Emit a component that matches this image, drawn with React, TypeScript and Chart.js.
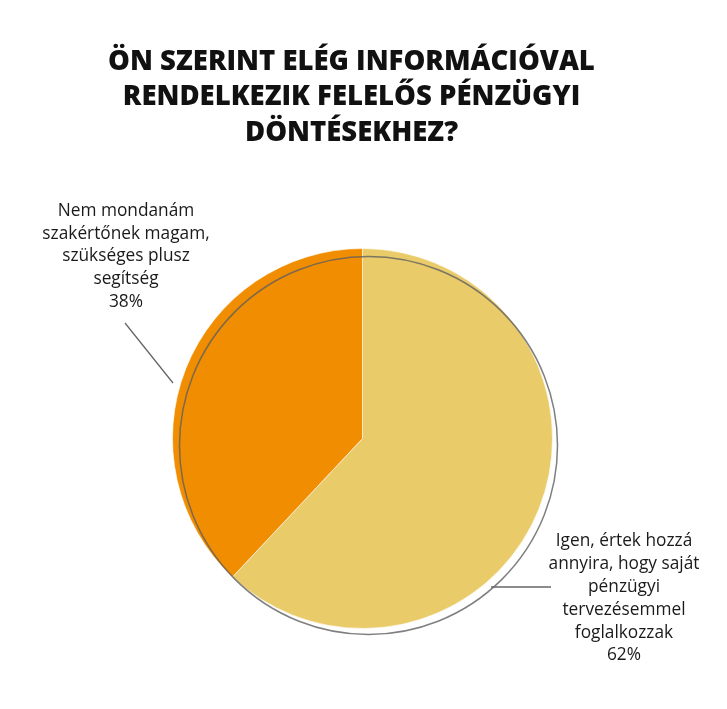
import React, { useEffect, useRef } from "react";
import { Chart, registerables } from "chart.js";

Chart.register(...registerables);

const categories = [
  "Igen, értek hozzá annyira, hogy saját pénzügyi tervezésemmel foglalkozzak",
  "Nem mondanám szakértőnek magam, szükséges plusz segítség",
];
const values = [62, 38];
const colors = ["#EACB6A", "#F18D00"];
const titleLines = [
  "ÖN SZERINT ELÉG INFORMÁCIÓVAL",
  "RENDELKEZIK FELELŐS PÉNZÜGYI",
  "DÖNTÉSEKHEZ?",
];
const labelLinesYes = ["Igen, értek hozzá", "annyira, hogy saját", "pénzügyi", "tervezésemmel", "foglalkozzak"];
const labelLinesNo = ["Nem mondanám", "szakértőnek magam,", "szükséges plusz", "segítség"];

const decorPlugin = {
  id: "decor",
  afterDatasetsDraw(chart: any) {
    const ctx = chart.ctx as CanvasRenderingContext2D;
    const arc = chart.getDatasetMeta(0).data[0] as any;
    const cx = arc.x;
    const cy = arc.y;
    const R = arc.outerRadius;
    ctx.save();
    // offset outline ring
    ctx.beginPath();
    ctx.arc(cx + 6, cy + 7, R - 1, 0, Math.PI * 2);
    ctx.strokeStyle = "rgba(95,95,95,0.8)";
    ctx.lineWidth = 1.5;
    ctx.stroke();

    // leader lines
    ctx.strokeStyle = "#666666";
    ctx.lineWidth = 1.3;
    ctx.beginPath();
    ctx.moveTo(125, 323);
    ctx.lineTo(173, 383);
    ctx.stroke();
    ctx.beginPath();
    ctx.moveTo(491, 587);
    ctx.lineTo(551, 587);
    ctx.stroke();

    // labels
    ctx.fillStyle = "#1a1a1a";
    ctx.font = "17.3px 'Open Sans'";
    ctx.textAlign = "center";
    ctx.textBaseline = "middle";
    const noLines = [...labelLinesNo, values[1] + "%"];
    noLines.forEach((t, i) => ctx.fillText(t, 126, 211 + i * 22.7));
    const yesLines = [...labelLinesYes, values[0] + "%"];
    yesLines.forEach((t, i) => ctx.fillText(t, 624, 541 + i * 22.9));

    // title
    ctx.fillStyle = "#111111";
    ctx.font = "800 27.5px 'Open Sans'";
    titleLines.forEach((t, i) => ctx.fillText(t, 351.5, 62 + i * 35.5));
    ctx.restore();
  },
};

export default function App() {
  const ref = useRef<HTMLCanvasElement>(null);
  useEffect(() => {
    if (!ref.current) return;
    const chart = new Chart(ref.current, {
      type: "pie",
      data: {
        labels: categories,
        datasets: [
          {
            data: values,
            backgroundColor: colors,
            borderColor: "rgba(255,255,255,0.6)",
            borderWidth: 1,
          },
        ],
      },
      options: {
        responsive: false,
        animation: false,
        layout: { padding: { left: 172, right: 174, top: 248, bottom: 80 } },
        plugins: {
          legend: { display: false },
          title: { display: false },
          tooltip: { enabled: false },
        },
      },
      plugins: [decorPlugin],
    });
    return () => chart.destroy();
  }, []);
  return (
    <div style={{ position: "fixed", left: 0, top: 0, width: 727, height: 709, background: "#ffffff" }}>
      <canvas ref={ref} width={727} height={709} style={{ display: "block" }} />
    </div>
  );
}
